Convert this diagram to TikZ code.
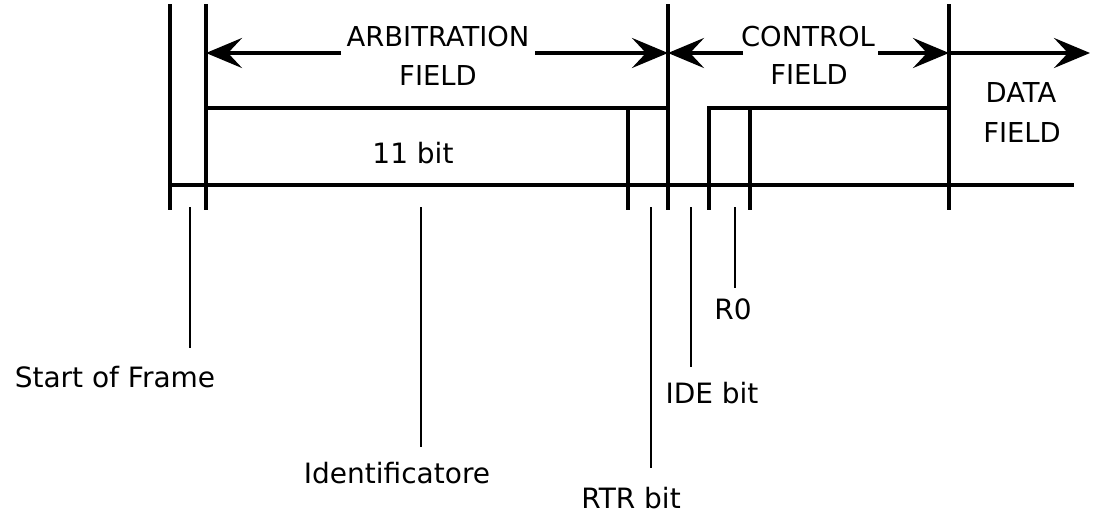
\documentclass[tikz,border=0pt]{standalone}
\usepackage{fontspec}
\setmainfont{DejaVu Sans}
\usetikzlibrary{arrows.meta}
\begin{document}
\begin{tikzpicture}[x=0.5pt,y=-0.5pt,
  frame/.style={line width=2pt, line cap=rect},
  ptr/.style={line width=1pt},
  dimarrow/.style={line width=2pt,-{Stealth[length=18pt,width=15pt,inset=7pt]}},
  lbl/.style={font=\fontsize{13.7pt}{16pt}\selectfont, inner sep=0pt, anchor=base},
  blbl/.style={font=\fontsize{14pt}{16pt}\selectfont, inner sep=0pt, anchor=base},
]
\useasboundingbox (0,0) rectangle (1096,519);
% structural coordinates
\coordinate (v1t) at (170,6);   \coordinate (v1b) at (170,208);
\coordinate (v2t) at (206,6);   \coordinate (v2b) at (206,208);
\coordinate (v3t) at (668,6);   \coordinate (v3b) at (668,208);
\coordinate (v4t) at (949,6);   \coordinate (v4b) at (949,208);
\coordinate (bl) at (170,185);  \coordinate (br) at (1072,185);
\coordinate (a1) at (206,108);  \coordinate (a2) at (668,108);
\coordinate (rtrT) at (628,108); \coordinate (rtrB) at (628,208);
\coordinate (c1) at (709,208);  \coordinate (c2) at (709,108); \coordinate (c3) at (949,108);
\coordinate (r0T) at (750,108); \coordinate (r0B) at (750,208);
% arrow coordinates
\coordinate (arbL) at (206,53); \coordinate (arbLe) at (341,53);
\coordinate (arbRe) at (535,53); \coordinate (arbR) at (668,53);
\coordinate (ctlLe) at (743,53); \coordinate (ctlRe) at (878,53);
\coordinate (ctlR) at (949,53); \coordinate (datR) at (1090,53);
% frame lines
\draw[frame] (v1t) -- (v1b);
\draw[frame] (v2t) -- (v2b);
\draw[frame] (v3t) -- (v3b);
\draw[frame] (v4t) -- (v4b);
\draw[frame] (bl) -- (br);
\draw[frame] (a1) -- (a2);
\draw[frame] (rtrT) -- (rtrB);
\draw[frame] (c1) -- (c2) -- (c3);
\draw[frame] (r0T) -- (r0B);
% dimension arrows
\draw[dimarrow] (arbLe) -- (arbL);
\draw[dimarrow] (arbRe) -- (arbR);
\draw[dimarrow] (ctlLe) -- (arbR);
\draw[dimarrow] (ctlRe) -- (ctlR);
\draw[dimarrow] (ctlR) -- (datR);
% field labels
\node[lbl] (arb1) at (438,47) {ARBITRATION};
\node[lbl] (arb2) at (438,86) {FIELD};
\node[lbl] (ctl1) at (808,47) {CONTROL};
\node[lbl] (ctl2) at (809,85) {FIELD};
\node[lbl] (dat1) at (1021,103) {DATA};
\node[lbl] (dat2) at (1022,142) {FIELD};
\node[blbl] (bits) at (413,163) {11 bit};
% bottom labels
\node[blbl] (sof) at (115,387) {Start of Frame};
\node[blbl] (idf) at (397,483) {Identificatore};
\node[blbl] (rtr) at (631,508) {RTR bit};
\node[blbl] (ide) at (712,403) {IDE bit};
\node[blbl] (rzero) at (733,319) {R0};
% pointer lines
\coordinate (sofT) at (190,207); \coordinate (sofB) at (190,348);
\coordinate (idfT) at (421,207); \coordinate (idfB) at (421,447);
\coordinate (rtrPT) at (651,207); \coordinate (rtrPB) at (651,468);
\coordinate (idePT) at (691,207); \coordinate (idePB) at (691,367);
\coordinate (r0PT) at (735,207); \coordinate (r0PB) at (735,288);
\draw[ptr] (sofT) -- (sofB);
\draw[ptr] (idfT) -- (idfB);
\draw[ptr] (rtrPT) -- (rtrPB);
\draw[ptr] (idePT) -- (idePB);
\draw[ptr] (r0PT) -- (r0PB);
\end{tikzpicture}
\end{document}
